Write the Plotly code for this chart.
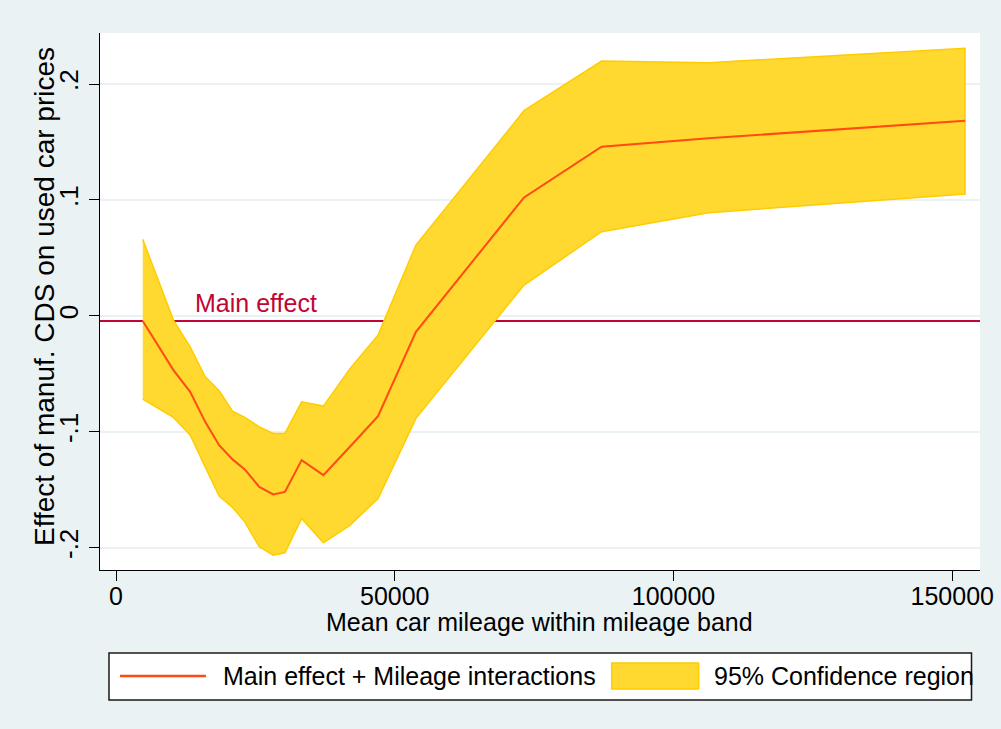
import plotly.graph_objects as go

# Mean car mileage of each mileage band
mileage = [4800, 10300, 13300, 16000, 18500, 20900, 23100, 25700, 28200, 30300,
           33300, 37200, 42000, 47000, 53800, 73200, 87100, 106300, 152300]

# Main effect + mileage interaction estimates
effect = [-0.0045, -0.0468, -0.0655, -0.0914, -0.1115, -0.1238, -0.1324, -0.1475,
          -0.1540, -0.1518, -0.1244, -0.1374, -0.1127, -0.0865, -0.0137, 0.1022,
          0.1459, 0.1532, 0.1683]

# 95% confidence bounds
ci_upper = [0.0660, -0.0036, -0.0267, -0.0525, -0.0646, -0.0821, -0.0876, -0.0957,
            -0.1014, -0.1014, -0.0741, -0.0778, -0.0453, -0.0166, 0.0611, 0.1770,
            0.2198, 0.2184, 0.2308]
ci_lower = [-0.0718, -0.0876, -0.1028, -0.1302, -0.1555, -0.1652, -0.1777, -0.1992,
            -0.2064, -0.2044, -0.1747, -0.1958, -0.1805, -0.1575, -0.0884, 0.0266,
            0.0726, 0.0890, 0.1051]

main_effect = -0.0045

x_ticks = [0, 50000, 100000, 150000]
x_ticklabels = ["0", "50000", "100000", "150000"]
y_ticks = [-0.2, -0.1, 0, 0.1, 0.2]
y_ticklabels = ["-.2", "-.1", "0", ".1", ".2"]

x_title = "Mean car mileage within mileage band"
y_title = "Effect of manuf. CDS on used car prices"
legend_labels = ["Main effect + Mileage interactions", "95% Confidence region"]

# Colours
BG = "#EAF2F3"
GOLD_FILL = "#FFD92F"
GOLD_EDGE = "#FFCC00"
LINE_COL = "#FF4A12"
MAIN_COL = "#C10534"
FONT = "Liberation Sans, Arial, sans-serif"

# Figure geometry (pixels)
W, H = 1001, 729
ML, MR, MT, MB = 100, 20.5, 33, 159
PW, PH = W - ML - MR, H - MT - MB


def px(xp):
    return (xp - ML) / PW


def py(yp):
    return 1 - (yp - MT) / PH


fig = go.Figure()

# Confidence band: upper bound forward, lower bound back
fig.add_trace(go.Scatter(
    x=mileage + mileage[::-1],
    y=ci_upper + ci_lower[::-1],
    fill="toself",
    fillcolor=GOLD_FILL,
    line=dict(color=GOLD_EDGE, width=1.5),
    mode="lines",
    hoverinfo="skip",
    showlegend=False,
))

fig.add_trace(go.Scatter(
    x=mileage,
    y=effect,
    mode="lines",
    line=dict(color=LINE_COL, width=2),
    showlegend=False,
))

# Main effect reference line, drawn beneath the band
fig.add_shape(type="line", xref="paper", yref="y", x0=0, x1=1,
              y0=main_effect, y1=main_effect, layer="below",
              line=dict(color=MAIN_COL, width=2))
fig.add_annotation(x=13800, y=main_effect, xref="x", yref="y",
                   text="Main effect", showarrow=False,
                   xanchor="left", yanchor="bottom", yshift=2,
                   font=dict(family=FONT, size=25, color=MAIN_COL))

# Axis titles
fig.add_annotation(x=px(540), y=py(622), xref="paper", yref="paper",
                   text=x_title, showarrow=False,
                   xanchor="center", yanchor="middle",
                   font=dict(family=FONT, size=25, color="black"))
fig.add_annotation(x=px(45), y=py(297), xref="paper", yref="paper",
                   text=y_title, showarrow=False, textangle=-90,
                   xanchor="center", yanchor="middle",
                   font=dict(family=FONT, size=28, color="black"))

# Legend box
fig.add_shape(type="rect", xref="paper", yref="paper",
              x0=px(109), x1=px(972), y0=py(700), y1=py(653),
              fillcolor="white", line=dict(color="#1a1a1a", width=1.5))
fig.add_shape(type="line", xref="paper", yref="paper",
              x0=px(120), x1=px(206), y0=py(676), y1=py(676),
              line=dict(color=LINE_COL, width=2.5))
fig.add_shape(type="rect", xref="paper", yref="paper",
              x0=px(612), x1=px(699), y0=py(689), y1=py(663),
              fillcolor=GOLD_FILL, line=dict(color=GOLD_EDGE, width=1.5))
fig.add_annotation(x=px(221), y=py(676), xref="paper", yref="paper",
                   text=legend_labels[0], showarrow=False,
                   xanchor="left", yanchor="middle",
                   font=dict(family=FONT, size=25, color="black"))
fig.add_annotation(x=px(712), y=py(676), xref="paper", yref="paper",
                   text=legend_labels[1], showarrow=False,
                   xanchor="left", yanchor="middle",
                   font=dict(family=FONT, size=25, color="black"))

fig.update_xaxes(
    range=[-2870, 154980],
    tickvals=x_ticks, ticktext=x_ticklabels,
    ticks="outside", ticklen=10, tickwidth=1.3, tickcolor="black",
    ticklabelstandoff=-6,
    showline=True, linecolor="black", linewidth=1.3,
    showgrid=False, zeroline=False,
    tickfont=dict(family=FONT, size=25, color="black"),
)
fig.update_yaxes(
    range=[-0.2192, 0.244],
    tickvals=y_ticks, ticktext=y_ticklabels, tickangle=-90,
    ticks="outside", ticklen=10, tickwidth=1.3, tickcolor="black",
    showline=True, linecolor="black", linewidth=1.3,
    showgrid=True, gridcolor=BG, gridwidth=1.5, zeroline=False,
    tickfont=dict(family=FONT, size=26, color="black"),
)

fig.update_layout(
    width=W, height=H,
    margin=dict(l=ML, r=MR, t=MT, b=MB, autoexpand=False),
    paper_bgcolor=BG, plot_bgcolor="white",
    showlegend=False,
)

fig.write_html("out.html")
